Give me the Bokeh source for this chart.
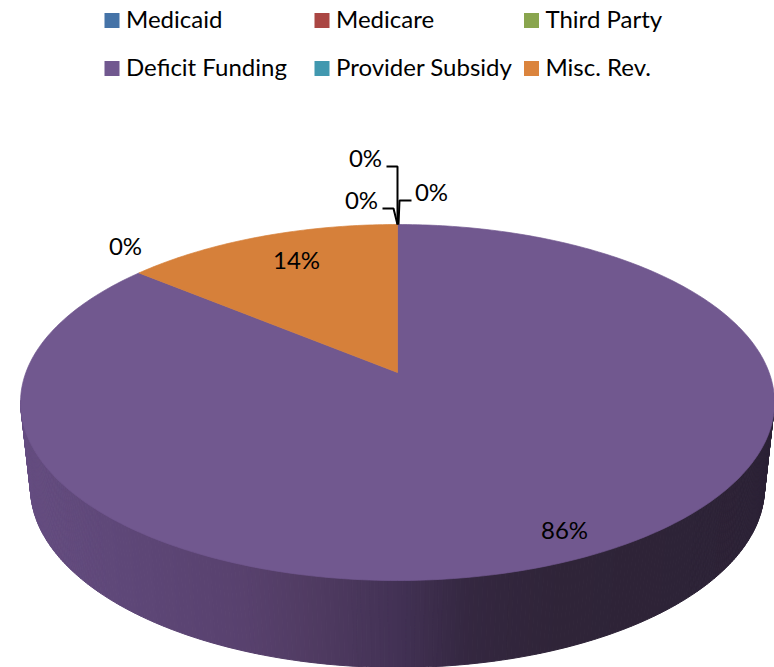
import math
from bokeh.plotting import figure
from bokeh.models import Range1d
from bokeh.core.properties import value
from bokeh.embed import file_html
from bokeh.resources import INLINE

categories = ["Medicaid", "Medicare", "Third Party", "Deficit Funding", "Provider Subsidy", "Misc. Rev."]
shares = [0, 0, 0, 86, 0, 14]
colors = ["#4573A7", "#AA4643", "#89A54E", "#71588F", "#4198AF", "#DB843D"]
slice_colors = ["#4573A7", "#AA4643", "#89A54E", "#71588F", "#4198AF", "#D6803A"]
value_labels = ["0%", "0%", "0%", "86%", "0%", "14%"]
label_x = [365, 361, 431, 564, 125, 296]
label_y = [157, 199, 191, 529, 245, 259]
leaders = [([386, 397, 397], [166, 166, 224]),
           ([382, 393, 397], [208, 208, 224]),
           ([411, 399, 398], [200, 200, 224])]
legend_x = [104, 314, 523.5, 104, 314, 523.5]
legend_y = [20, 20, 20, 68, 68, 68]
side_stops = [(20, (101, 77, 128)), (120, (94, 71, 120)), (240, (88, 65, 110)), (310, (80, 59, 98)),
              (400, (66, 49, 84)), (470, (52, 39, 64)), (560, (47, 36, 56)), (776, (44, 34, 54))]

TOP, BOTTOM, APEX, CX, S = 224, 580, 372, 397, 371.6
c = (2 * APEX - TOP - BOTTOM) / (BOTTOM - TOP)
a = APEX - TOP + TOP * c
LOW_CY, LOW_RY, LOW_RX = 487, 180, 367
UP_CY, UP_RY, UP_RX = (TOP + BOTTOM) / 2, (BOTTOM - TOP) / 2, S / math.sqrt(1 - c * c)


def top_point(frac):
    th = 2 * math.pi * frac
    x, y = math.sin(th), -math.cos(th)
    d = c * y + 1
    return CX + S * x / d, (a * y + APEX) / d


def side_color(x):
    for (x0, c0), (x1, c1) in zip(side_stops, side_stops[1:]):
        if x <= x1:
            t = max(0, (x - x0) / (x1 - x0))
            return "#%02x%02x%02x" % tuple(round(u + (v - u) * t) for u, v in zip(c0, c1))
    return "#%02x%02x%02x" % side_stops[-1][1]


p = figure(width=774, height=667, output_backend="svg", toolbar_location=None,
           x_range=Range1d(0, 774), y_range=Range1d(667, 0), min_border=0)
p.axis.visible = False
p.grid.visible = False
p.outline_line_color = None

# side wall: colour bands between the upper and lower rims
n = 260
xs, ys, cs = [], [], []
for i in range(n):
    t0, t1 = math.pi * i / n, math.pi * (i + 1) / n
    xa, xb = CX - UP_RX * math.cos(t0), CX - UP_RX * math.cos(t1)
    la, lb = CX - LOW_RX * math.cos(t0), CX - LOW_RX * math.cos(t1)
    xs.append([xa, xb, lb, la])
    ys.append([UP_CY + UP_RY * math.sin(t0) - 2, UP_CY + UP_RY * math.sin(t1) - 2,
               LOW_CY + LOW_RY * math.sin(t1), LOW_CY + LOW_RY * math.sin(t0)])
    cs.append(side_color((xa + xb) / 2))
p.patches(xs, ys, fill_color=cs, line_color=cs, line_width=1.0)

# top face, from the shares
start = 0.0
for share, col in zip(shares, slice_colors):
    if share > 0:
        m = max(2, int(share * 4))
        pts = [top_point((start + share * k / m) / 100) for k in range(m + 1)]
        px = [CX] + [u[0] for u in pts]
        py = [APEX] + [u[1] for u in pts]
        p.patch(px, py, fill_color=col, line_color=col, line_width=0.7)
    start += share

for lx, ly in leaders:
    p.line(lx, ly, line_color="#000000", line_width=2)

p.text(label_x, label_y, value_labels, text_font=value("Lato"), text_font_size="24px",
       text_color="#000000", text_align="center", text_baseline="middle")

SW = 15
p.quad(left=legend_x, right=[v + SW for v in legend_x],
       top=[v - SW / 2 for v in legend_y], bottom=[v + SW / 2 for v in legend_y],
       fill_color=colors, line_color=None)
p.text([v + 21.5 for v in legend_x], [v - 2 for v in legend_y], categories, text_font=value("Lato"),
       text_font_size="24px", text_color="#000000", text_align="left", text_baseline="middle")

open("out.html", "w").write(file_html(p, INLINE))
